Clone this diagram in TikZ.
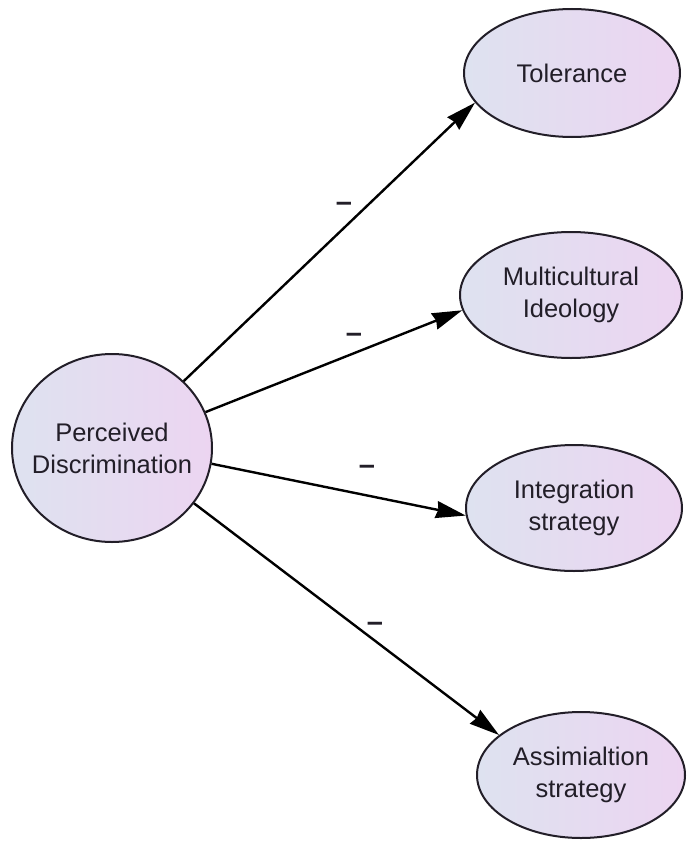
\documentclass[tikz,border=0pt]{standalone}
\usepackage{fontspec}
\setmainfont{Liberation Sans}
\usetikzlibrary{shapes.geometric,arrows.meta}
\definecolor{shadeL}{RGB}{222,226,240}
\definecolor{shadeR}{RGB}{236,213,241}
\definecolor{ink}{RGB}{34,30,40}
\tikzset{
  construct/.style={ellipse, draw=ink, line width=2pt, inner sep=0pt,
    left color=shadeL, right color=shadeR},
  caption/.style={align=center, text=ink, font=\fontsize{25.5}{32}\selectfont},
  path/.style={line width=2.4pt, draw=black,
    -{Stealth[length=30pt,width=17pt,inset=2pt]}},
  sign/.style={font=\bfseries\fontsize{29}{30}\selectfont, text=ink}
}
\begin{document}
\begin{tikzpicture}[x=1pt,y=-1pt]
\useasboundingbox (0,0) rectangle (686,843);

\node[construct, minimum width=200pt, minimum height=188pt,
  label={[caption]center:Perceived\\Discrimination}] (pd) at (112,448) {};
\node[construct, minimum width=216pt, minimum height=128pt,
  label={[caption]center:Tolerance}] (tol) at (572,73) {};
\node[construct, minimum width=222pt, minimum height=126pt,
  label={[caption]center:Multicultural\\Ideology}] (mci) at (571,295) {};
\node[construct, minimum width=216pt, minimum height=126pt,
  label={[caption]center:Integration\\strategy}] (int) at (574,508) {};
\node[construct, minimum width=208pt, minimum height=126pt,
  label={[caption]center:Assimialtion\\strategy}] (ass) at (581,775) {};

\draw[path] (pd.43) -- (tol.197.7);
\draw[path] (pd.21.6) -- (mci.188.6);
\draw[path] (pd.-9.6) -- (int.184.8);
\draw[path] (pd.-34.5) -- (ass.154.5);

\node[sign] (s1) at (344,207) {–};
\node[sign] (s2) at (354,338) {–};
\node[sign] (s3) at (367,470) {–};
\node[sign] (s4) at (375,627) {–};
\end{tikzpicture}
\end{document}
